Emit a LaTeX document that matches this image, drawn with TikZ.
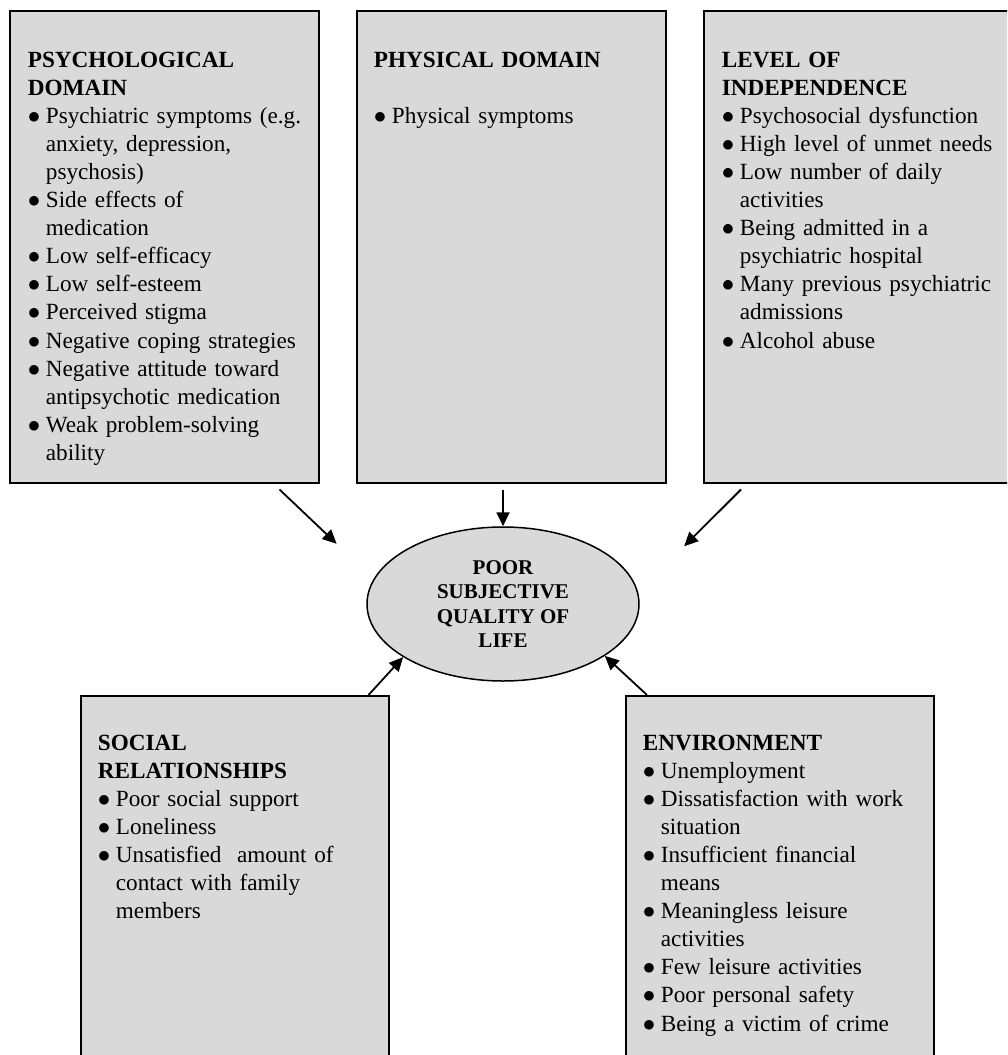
\documentclass[tikz,border=0pt]{standalone}
\usepackage{fontspec}
\setmainfont{Liberation Serif}
\usetikzlibrary{arrows.meta, shapes.geometric}

\definecolor{boxgray}{HTML}{D9D9D9}

% one bullet point, wrapped lines hang under the text
\newcommand{\itm}[1]{\par\hangindent=18pt\hangafter=1\makebox[18pt][l]{$\bullet$}#1}

\begin{document}
\begin{tikzpicture}[
            x = 1pt, y = -1pt, % pixel grid, y runs down
            > = {Triangle[length=14pt, width=13pt]}, % arrow head style
            line width = 1.8pt
        ]

        \tikzstyle{box}=[
            draw = black,
            line width = 1.5pt,
            fill = boxgray,
            rectangle,
            anchor = north west,
            inner sep = 0pt,
            minimum width = 309pt
        ]
        \tikzstyle{txt}=[
            anchor = base west,
            inner sep = 0pt,
            text width = 300pt,
            font = \fontsize{23.2}{28.1}\selectfont
        ]

        \useasboundingbox (0,0) rectangle (1007,1055);
        \clip (0,0) rectangle (1007,1055);

        \node[box, minimum height=472pt] (psych) at (9,10) {};
        \node[box, minimum height=472pt] (phys) at (356,10) {};
        \node[box, minimum height=472pt, minimum width=320pt] (indep) at (703,10) {};
        \node[box, minimum height=380pt, minimum width=308pt] (social) at (80,695) {};
        \node[box, minimum height=380pt, minimum width=308pt] (env) at (625,695) {};

        \node[txt] (psychtxt) at ([shift={(18,57)}]psych.north west) {%
            \textbf{PSYCHOLOGICAL}\newline\textbf{DOMAIN}
            \itm{Psychiatric symptoms (e.g.\newline anxiety, depression,\newline psychosis)}
            \itm{Side effects of\newline medication}
            \itm{Low self-efficacy}
            \itm{Low self-esteem}
            \itm{Perceived stigma}
            \itm{Negative coping strategies}
            \itm{Negative attitude toward\newline antipsychotic medication}
            \itm{Weak problem-solving\newline ability}\par};
        \node[txt] (phystxt) at ([shift={(17,57)}]phys.north west) {%
            \textbf{PHYSICAL DOMAIN}\par\mbox{}
            \itm{Physical symptoms}\par};
        \node[txt] (indeptxt) at ([shift={(18,57)}]indep.north west) {%
            \textbf{LEVEL OF}\newline\textbf{INDEPENDENCE}
            \itm{Psychosocial dysfunction}
            \itm{High level of unmet needs}
            \itm{Low number of daily\newline activities}
            \itm{Being admitted in a\newline psychiatric hospital}
            \itm{Many previous psychiatric\newline admissions}
            \itm{Alcohol abuse}\par};
        \node[txt] (socialtxt) at ([shift={(17,55)}]social.north west) {%
            \textbf{SOCIAL}\newline\textbf{RELATIONSHIPS}
            \itm{Poor social support}
            \itm{Loneliness}
            \itm{Unsatisfied\ \ amount of\newline contact with family\newline members}\par};
        \node[txt] (envtxt) at ([shift={(17,55)}]env.north west) {%
            \textbf{ENVIRONMENT}
            \itm{Unemployment}
            \itm{Dissatisfaction with work\newline situation}
            \itm{Insufficient financial\newline means}
            \itm{Meaningless leisure\newline activities}
            \itm{Few leisure activities}
            \itm{Poor personal safety}
            \itm{Being a victim of crime}\par};

        \node[ellipse, draw, fill=boxgray, line width=1.5pt,
              minimum width=272pt, minimum height=154pt, inner sep=0pt,
              align=center, font=\fontsize{21}{24.5}\selectfont\bfseries]
            (qol) at (503,604) {POOR\\SUBJECTIVE\\QUALITY OF\\LIFE};

        \draw[->, shorten >=51pt] ([shift={(-40,6)}]psych.south east) -- (qol.169.6);
        \draw[->] ([yshift=-6pt]phys.south -| qol.north) -- (qol.north);
        \draw[->, shorten >=65pt] ([shift={(38,6)}]indep.south west) -- (qol.5.8);
        \draw[->] ([xshift=-21pt]social.north east) -- (qol.208.6);
        \draw[->] ([xshift=22pt]env.north west) -- (qol.333.7);

    \end{tikzpicture}
\end{document}
